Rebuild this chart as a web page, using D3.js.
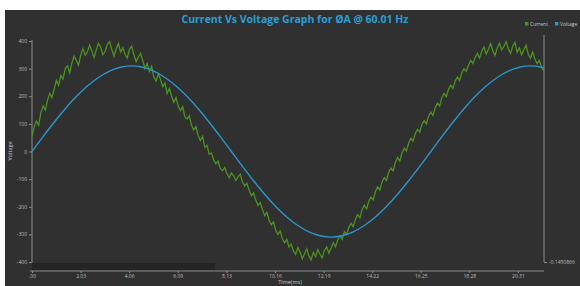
<!DOCTYPE html>
<html>
<head>
<meta charset="utf-8">
<script src="https://cdn.jsdelivr.net/npm/d3@7"></script>
<style>
  body { margin: 0; background: #fff; }
  svg { display: block; font-family: "Open Sans", "Noto Sans", sans-serif; }
</style>
</head>
<body>
<svg id="chart" width="580" height="286"></svg>
<script>
// chart data
var chartTitle = "Current Vs Voltage Graph for ØA @ 60.01 Hz";
var seriesNames = ["Current", "Voltage"];
var xTicks = [0, 2.03, 4.06, 6.09, 8.13, 10.16, 12.19, 14.22, 16.25, 18.28, 20.31];
var xTickLabels = [".00", "2.03", "4.06", "6.09", "8.13", "10.16", "12.19", "14.22", "16.25", "18.28", "20.31"];
var yTicks = [400, 300, 200, 100, 0, -100, -200, -300, -400];
var rightTickLabels = ["-0.1450866"];
var xTitle = "Time(ms)";
var yTitle = "Voltage";

// sample spacing in ms
var currentStep = 0.0926;
var voltageStep = 0.463;

var current = [55, 90, 110, 95, 140, 165, 150, 185, 210, 195,
  225, 258, 240, 275, 262, 300, 310, 285, 320, 345,
  330, 312, 350, 372, 348, 360, 385, 365, 340, 368,
  392, 378, 350, 362, 388, 398, 370, 345, 372, 390,
  360, 375, 352, 338, 370, 382, 350, 325, 342, 355,
  330, 300, 318, 290, 308, 270, 255, 280, 262, 235,
  248, 210, 228, 200, 178, 195, 165, 148, 162, 125,
  118, 130, 95, 78, 90, 58, 40, 55, 15, 22,
  -10, -5, -30, -45, -35, -62, -70, -58, -80, -95,
  -78, -88, -105, -92, -82, -110, -125, -115, -140, -160,
  -150, -175, -195, -185, -210, -232, -220, -248, -265, -255,
  -285, -300, -288, -315, -330, -318, -345, -335, -360, -372,
  -348, -365, -388, -370, -352, -378, -392, -365, -380, -355,
  -372, -385, -358, -345, -368, -350, -330, -345, -320, -305,
  -318, -290, -300, -275, -260, -272, -245, -228, -240, -210,
  -195, -208, -180, -165, -175, -145, -128, -140, -110, -95,
  -105, -75, -60, -70, -40, -22, -35, -5, 12, 2,
  30, 48, 38, 65, 80, 70, 98, 112, 100, 128,
  142, 130, 158, 175, 165, 195, 210, 198, 225, 240,
  228, 255, 270, 258, 285, 300, 290, 312, 330, 318,
  340, 355, 338, 362, 378, 352, 370, 390, 365, 348,
  375, 392, 368, 380, 398, 372, 355, 382, 395, 360,
  375, 350, 368, 385, 352, 338, 360, 335, 318, 330,
  305, 292];

var voltage = [0, 54, 106, 155, 199, 237, 268, 291, 305, 310,
  305, 291, 268, 237, 199, 155, 106, 54, 0, -54,
  -106, -155, -199, -237, -268, -291, -305, -310, -305, -291,
  -268, -237, -199, -155, -106, -54, 0, 54, 106, 155,
  199, 237, 268, 291, 305, 310, 305, 291];

var svg = d3.select("#chart");

// dark panel
svg.append("rect")
  .attr("x", 5).attr("y", 10)
  .attr("width", 575).attr("height", 276)
  .attr("fill", "#303030");

var x = d3.scaleLinear().domain([0, 21.4]).range([32, 544]);
var y = d3.scaleLinear().domain([-400, 400]).range([262, 41]);

// scrollbar band under the plot
svg.append("rect")
  .attr("x", 32).attr("y", 263)
  .attr("width", 183).attr("height", 7)
  .attr("fill", "#252525");

// title
svg.append("text")
  .attr("x", 295).attr("y", 23)
  .attr("text-anchor", "middle")
  .attr("font-size", 10.5).attr("font-weight", "bold")
  .attr("fill", "#2a9fd6")
  .text(chartTitle);

// legend
var legendColors = ["#4c931e", "#2996cc"];
var legendX = [525, 555];
seriesNames.forEach(function(name, i) {
  svg.append("rect")
    .attr("x", legendX[i]).attr("y", 22)
    .attr("width", 3.5).attr("height", 3.5)
    .attr("fill", legendColors[i]);
  svg.append("text")
    .attr("x", legendX[i] + 5).attr("y", 25.8)
    .attr("font-size", 5).attr("fill", "#c8c8c8")
    .text(name);
});

// left axis
var yAxis = svg.append("g")
  .attr("transform", "translate(32,0)")
  .call(d3.axisLeft(y).tickValues(yTicks).tickSize(3).tickPadding(2)
    .tickFormat(function(d) { return String(d); }));
yAxis.select(".domain").attr("stroke", "#8a8a8a").attr("d", "M0,40V263");
yAxis.selectAll(".tick line").attr("stroke", "#8a8a8a");
yAxis.selectAll("text").attr("fill", "#bdbdbd").attr("font-size", 5)
  .attr("font-family", "Open Sans, sans-serif");

// bottom axis
var xAxis = svg.append("g")
  .attr("transform", "translate(0,271)")
  .call(d3.axisBottom(x).tickValues(xTicks).tickSize(2).tickPadding(1.5)
    .tickFormat(function(d, i) { return xTickLabels[i]; }));
xAxis.select(".domain").attr("stroke", "#8a8a8a").attr("d", "M30,0H544");
xAxis.selectAll(".tick line").attr("stroke", "#8a8a8a");
xAxis.selectAll("text").attr("fill", "#bdbdbd").attr("font-size", 5)
  .attr("font-family", "Open Sans, sans-serif");

// right axis (voltage)
var yRight = d3.scaleOrdinal().domain(rightTickLabels).range([262]);
var rAxis = svg.append("g")
  .attr("transform", "translate(544,0)")
  .call(d3.axisRight(yRight).tickSize(3).tickPadding(2));
rAxis.select(".domain").attr("stroke", "#8a8a8a").attr("d", "M0,35V262");
rAxis.selectAll(".tick line").attr("stroke", "#8a8a8a");
rAxis.selectAll("text").attr("fill", "#bdbdbd").attr("font-size", 5)
  .attr("font-family", "Open Sans, sans-serif");

// axis titles
svg.append("text")
  .attr("x", 290).attr("y", 284)
  .attr("text-anchor", "middle")
  .attr("font-size", 5.5).attr("fill", "#c8c8c8")
  .text(xTitle);
svg.append("text")
  .attr("transform", "translate(12,151) rotate(-90)")
  .attr("text-anchor", "middle")
  .attr("font-size", 5.5).attr("fill", "#c8c8c8")
  .text(yTitle);

// clip for lines
svg.append("clipPath").attr("id", "plot")
  .append("rect").attr("x", 32).attr("y", 30).attr("width", 512).attr("height", 240);

var currentLine = d3.line()
  .x(function(d, i) { return x(i * currentStep); })
  .y(function(d) { return y(d); });

var voltageLine = d3.line()
  .x(function(d, i) { return x(i * voltageStep); })
  .y(function(d) { return y(d); })
  .curve(d3.curveMonotoneX);

svg.append("path")
  .datum(current)
  .attr("clip-path", "url(#plot)")
  .attr("fill", "none")
  .attr("stroke", "#4c931e")
  .attr("stroke-width", 1.3)
  .attr("d", currentLine);

svg.append("path")
  .datum(voltage)
  .attr("clip-path", "url(#plot)")
  .attr("fill", "none")
  .attr("stroke", "#2996cc")
  .attr("stroke-width", 1.4)
  .attr("d", voltageLine);
</script>
</body>
</html>
